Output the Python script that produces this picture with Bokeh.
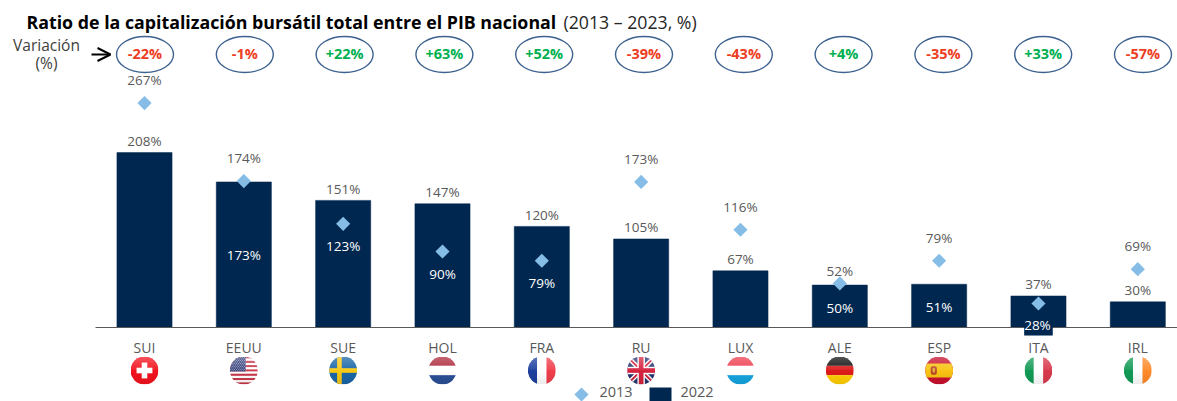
import base64
from bokeh.core.properties import value
from bokeh.embed import file_html
from bokeh.models import (Arrow, ColumnDataSource, FixedTicker, LinearAxis, OpenHead, Range1d)
from bokeh.plotting import figure
from bokeh.resources import INLINE

categories = ["SUI", "EEUU", "SUE", "HOL", "FRA", "RU", "LUX", "ALE", "ESP", "ITA", "IRL"]
values_2013 = [267, 174, 123, 90, 79, 173, 116, 52, 79, 28, 69]
values_2022 = [208, 173, 151, 147, 120, 105, 67, 50, 51, 37, 30]
variation = ["-22%", "-1%", "+22%", "+63%", "+52%", "-39%", "-43%", "+4%", "-35%", "+33%", "-57%"]

FONT = "Open Sans"
W, H = 1177, 401
ORIGIN = 0
X0, DX = 144.0, 99.33      # picture px of first category, px between categories
Y0, DY = 326.5, 0.8385     # picture px of zero, px per percent


def X(px):
    return (px - X0) / DX


def Y(px):
    return (Y0 - px) / DY


p = figure(width=W, height=H, output_backend="svg", toolbar_location=None,
           x_axis_type=None, y_axis_type=None, min_border=0,
           x_range=Range1d(X(ORIGIN), X(ORIGIN + W)), y_range=Range1d(Y(ORIGIN + H), Y(ORIGIN)))
p.grid.visible = False
p.outline_line_color = None

idx = list(range(len(categories)))
NAVY = "#00274f"
LIGHT = "#85bde6"

# bars and diamonds
bars = p.vbar(x=idx, top=values_2022, width=0.555, fill_color=NAVY,
              line_color=NAVY, line_width=0.5)
diamonds = p.scatter(x=idx, y=values_2013, marker="square", angle=0.7854, size=10,
                     fill_color=LIGHT, line_color=None)

# axis
axis = LinearAxis(fixed_location=0, ticker=FixedTicker(ticks=idx),
                  major_label_overrides={i: c for i, c in enumerate(categories)},
                  major_tick_line_color=None, minor_tick_line_color=None,
                  axis_line_color="#595959", axis_line_width=1.2,
                  major_label_text_font=FONT, major_label_text_font_size="14px",
                  major_label_text_color="#595959", major_label_standoff=5,
                  bounds=(X(95), X(ORIGIN + W)))
p.add_layout(axis, "below")

# value labels
GRAY, WHITE = "#595959", "#ffffff"
xs, ys, txt, off, col = [], [], [], [], []
for i, (a, b) in enumerate(zip(values_2013, values_2022)):
    c = categories[i]
    if a >= b:
        o, k = (-12 if c == "ALE" else -23), GRAY
    else:
        o, k = 22.5, WHITE
    if c != "ITA":
        xs.append(i); ys.append(a); txt.append(f"{a}%"); off.append(o); col.append(k)
    if c in ("EEUU", "ALE", "ESP"):
        xs.append(i); ys.append(b / 2); txt.append(f"{b}%"); off.append({"EEUU": 1, "ALE": 2, "ESP": 1}[c]); col.append(WHITE)
    else:
        xs.append(i); ys.append(b); txt.append(f"{b}%"); off.append(-11.5); col.append(GRAY)
p.text(x="x", y="y", text="t", y_offset="o", text_color="c",
       source=ColumnDataSource(dict(x=xs, y=ys, t=txt, o=off, c=col)),
       text_font=value(FONT), text_font_size="13.5px", text_align="center",
       text_baseline="middle")
ita = categories.index("ITA")
p.text(x=[ita], y=[values_2013[ita]], text=[f"{values_2013[ita]}%"], y_offset=22,
       text_color=WHITE, background_fill_color=NAVY, padding=[0, 2, 0, 2], level="overlay",
       text_font=value(FONT), text_font_size="13.5px", text_align="center", text_baseline="middle")

# variation ellipses (their row is spaced a little wider than the bars)
row = [Y(54)] * len(idx)
ex = [X(144.5 + 99.8 * i) for i in idx]
p.ellipse(x=ex, y=row, width=57, height=36, width_units="screen", height_units="screen",
          fill_color="#ffffff", line_color="#3d6290", line_width=1.4)
p.text(x=ex, y=row, text=variation, y_offset=-1,
       text_color=["#00b050" if v.startswith("+") else "#ee3d23" for v in variation],
       text_font=value(FONT), text_font_size="14.5px", text_font_style="bold",
       text_align="center", text_baseline="middle")

# title
p.text(x=[X(26)], y=[Y(21)], text=["Ratio de la capitalización bursátil total entre el PIB nacional"],
       text_font=value(FONT), text_font_size="17.8px", text_font_style="bold", text_color="#000000",
       text_align="left", text_baseline="middle")
p.text(x=[X(563)], y=[Y(21)], text=["(2013 – 2023, %)"],
       text_font=value(FONT), text_font_size="17.7px", text_color="#262626",
       text_align="left", text_baseline="middle")

# Variación
p.text(x=[X(46), X(46)], y=[Y(44), Y(62)], text=["Variación", "(%)"], text_font=value(FONT),
       text_font_size="15.5px", text_color="#404040", text_align="center", text_baseline="middle")
p.add_layout(Arrow(end=OpenHead(size=13, line_color="#000000", line_width=2),
                   x_start=X(91), y_start=Y(54), x_end=X(110), y_end=Y(54),
                   line_color="#000000", line_width=2))


# flags
def svg(body):
    s = ('<svg xmlns="http://www.w3.org/2000/svg" xmlns:xlink="http://www.w3.org/1999/xlink" '
         'width="56" height="56" viewBox="0 0 60 60"><defs>'
         '<clipPath id="c"><circle cx="30" cy="30" r="30"/></clipPath>'
         '<linearGradient id="g" x1="0" y1="0" x2="0" y2="1">'
         '<stop offset="0" stop-color="#fff" stop-opacity=".28"/>'
         '<stop offset=".5" stop-color="#fff" stop-opacity=".05"/>'
         '<stop offset=".5" stop-color="#000" stop-opacity="0"/>'
         '<stop offset="1" stop-color="#000" stop-opacity=".08"/>'
         '</linearGradient></defs><g clip-path="url(#c)">' + body +
         '<rect width="60" height="60" fill="url(#g)"/></g></svg>')
    return "data:image/svg+xml;base64," + base64.b64encode(s.encode()).decode()


def hs(a, b, c):
    return (f'<rect width="60" height="20" fill="{a}"/><rect y="20" width="60" height="20" fill="{b}"/>'
            f'<rect y="40" width="60" height="20" fill="{c}"/>')


def vs(a, b, c):
    return (f'<rect width="20" height="60" fill="{a}"/><rect x="20" width="20" height="60" fill="{b}"/>'
            f'<rect x="40" width="20" height="60" fill="{c}"/>')


stripes = "".join(f'<rect y="{i*60/13:.2f}" width="60" height="{60/13:.2f}" fill="{"#c8374a" if i%2==0 else "#fff"}"/>'
                  for i in range(13))
stars = "".join(f'<circle cx="{2+j*4.2+(i%2)*2.1:.1f}" cy="{2+i*3.2:.1f}" r=".9" fill="#fff"/>'
                for i in range(10) for j in range(8))
flags = {
    "SUI": '<rect width="60" height="60" fill="#f2121d"/><rect x="24" y="13" width="12" height="34" fill="#fff"/>'
           '<rect x="13" y="24" width="34" height="12" fill="#fff"/>',
    "EEUU": stripes + '<rect width="34" height="32" fill="#343f7a"/>' + stars,
    "SUE": '<rect width="60" height="60" fill="#1a66a6"/><rect x="17" width="10" height="60" fill="#f7c815"/>'
           '<rect y="25" width="60" height="10" fill="#f7c815"/>',
    "HOL": hs("#ae2b3c", "#ffffff", "#2a5096"),
    "FRA": vs("#1d3f9e", "#ffffff", "#ef3e4a"),
    "RU": '<rect width="60" height="60" fill="#27356f"/>'
          '<path d="M0 0L60 60M60 0L0 60" stroke="#fff" stroke-width="10"/>'
          '<path d="M0 0L60 60M60 0L0 60" stroke="#d5233f" stroke-width="4"/>'
          '<rect x="22" width="16" height="60" fill="#fff"/><rect y="22" width="60" height="16" fill="#fff"/>'
          '<rect x="25" width="10" height="60" fill="#d5233f"/><rect y="25" width="60" height="10" fill="#d5233f"/>',
    "LUX": hs("#ef3e4f", "#ffffff", "#14a5df"),
    "ALE": hs("#111111", "#dd1a1a", "#ffce00"),
    "ESP": '<rect width="60" height="60" fill="#c8102e"/><rect y="15" width="60" height="30" fill="#f8c313"/>'
           '<rect x="12" y="21" width="13" height="18" rx="4" fill="#b8482a"/><rect x="16" y="25" width="5" height="9" fill="#e8b23a"/>',
    "ITA": vs("#129a55", "#ffffff", "#d8394b"),
    "IRL": vs("#129a55", "#ffffff", "#ff8a2a"),
}
p.image_url(url=[svg(flags[c]) for c in categories], x=idx, y=[Y(370)] * len(idx), w=28, h=28,
            w_units="screen", h_units="screen", anchor="center")

# legend keys and labels
legend_years = ["2013", "2022"]
p.scatter(x=[X(581)], y=[Y(394)], marker="square", angle=0.7854, size=10, fill_color=LIGHT, line_color=None)
p.rect(x=[X(660)], y=[Y(394)], width=22, height=14, width_units="screen", height_units="screen",
       fill_color=NAVY, line_color=None)
p.text(x=[X(599), X(680)], y=[Y(391.5)] * 2, text=legend_years, text_font=value(FONT),
       text_font_size="14.5px", text_color="#595959", text_align="left", text_baseline="middle")

open("out.html", "w").write(file_html(p, INLINE))
